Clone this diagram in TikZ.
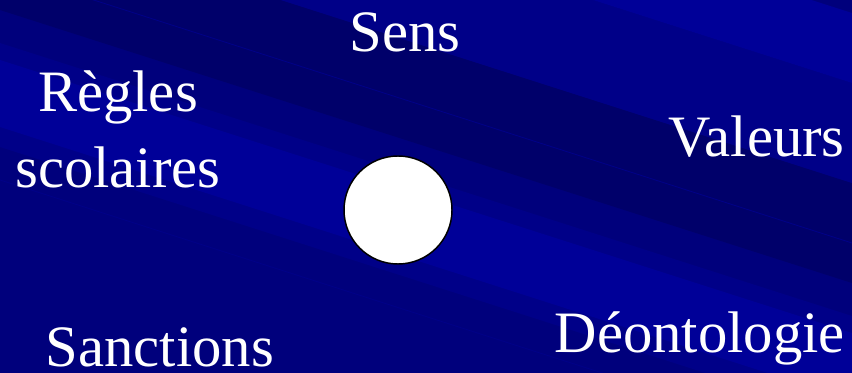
\documentclass[tikz,border=0pt]{standalone}
\usepackage{fontspec}
\setmainfont{Liberation Serif}
\definecolor{bgnavy}{HTML}{00007C}
\definecolor{bgdark}{HTML}{00006A}
\definecolor{bgmid}{HTML}{000088}
\definecolor{bglight}{HTML}{000098}
\tikzset{
  word/.style={text=white,font=\fontsize{44}{57}\selectfont,inner sep=0pt,align=center},
  disc/.style={circle,draw=black,line width=1.1pt,fill=white,minimum size=81pt,inner sep=0pt}
}
\begin{document}
\begin{tikzpicture}[x=0.75pt,y=-0.75pt]
  \useasboundingbox (0,0) rectangle (852,373);
  % background with diagonal streaks
  \fill[bgnavy] (0,0) rectangle (852,373);
  \begin{scope}
    \clip (0,0) rectangle (852,373);
    \fill[bgmid] (0,43) -- (852,316) -- (852,420) -- (0,147) -- cycle;
    \fill[bglight] (0,60) -- (852,333) -- (852,400) -- (0,127) -- cycle;
    \fill[bgdark] (0,-90) -- (852,183) -- (852,283) -- (0,10) -- cycle;
    \fill[bgmid] (0,-190) -- (852,83) -- (852,183) -- (0,-90) -- cycle;
    \fill[bglight] (0,-260) -- (852,13) -- (852,83) -- (0,-190) -- cycle;
    \draw[bgmid,line width=0.6pt] (0,180) -- (852,453);
    \draw[bgmid,line width=0.6pt] (0,-30) -- (852,243);
  \end{scope}
  % centre
  \node[disc] (core) at (398,210) {};
  % words round it
  \node[word,anchor=base] (sens) at (405,52) {Sens};
  \node[word,anchor=base] (regles) at (118,188) {Règles\\scolaires};
  \node[word,anchor=base east] (valeurs) at (845,157) {Valeurs};
  \node[word,anchor=base] (sanctions) at (160,367) {Sanctions};
  \node[word,anchor=base east] (deonto) at (845,353) {Déontologie};
\end{tikzpicture}
\end{document}
